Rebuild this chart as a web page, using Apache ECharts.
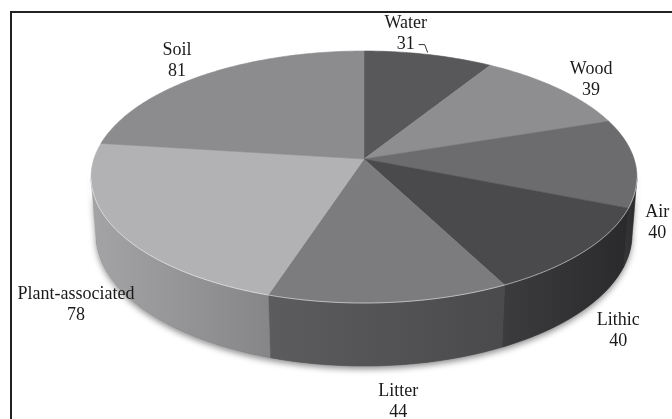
<!DOCTYPE html>
<html><head><meta charset="utf-8">
<script src="https://cdn.jsdelivr.net/npm/echarts@6/dist/echarts.min.js"></script>
<style>html,body{margin:0;padding:0;background:#fff}#c{width:672px;height:419px}</style>
</head><body><div id="c"></div>
<script>
// ---- data ----
const categories = ['Water', 'Wood', 'Air', 'Lithic', 'Litter', 'Plant-associated', 'Soil'];
const values = [31, 39, 40, 40, 44, 78, 81];

// ---- styles ----
const topColors = ['#58585a', '#8e8e90', '#6c6c6e', '#4a4a4c', '#7c7c7e', '#b2b2b4', '#8c8c8e'];
const sideColors = [['#444446', '#3a3a3c'], ['#6e6e70', '#5e5e60'], ['#38383a', '#28282a'], ['#3c3c3e', '#2a2a2c'], ['#5c5c5e', '#4a4a4c'], ['#a4a4a6', '#868688'], ['#707072', '#606062']];
const labelOffsets = [[-23, -21], [33, -9], [22, 60], [34, 79], [9, 99], [-41, 74], [-26, -14]];
const leaderLines = [true, false, false, false, false, false, false];

// ---- 3D view ----
const view = { cx: 364, cy: 159, f: 1680, D: 6.22, sin: 0.457, cos: 0.889, t: 0.24 };
const VIS0 = 99, VIS1 = 261;
function project(X, Z, Yp) {
  const yc = Yp * view.cos + Z * view.sin;
  const d = view.D + Z * view.cos - Yp * view.sin;
  return [view.cx + view.f * X / d, view.cy - view.f * yc / d];
}
function arc(th0, th1, Yp, r) {
  const pts = [];
  const n = Math.max(1, Math.ceil(Math.abs(th1 - th0)));
  for (let i = 0; i <= n; i++) {
    const th = th0 + (th1 - th0) * i / n;
    const ph = (90 - th) * Math.PI / 180;
    pts.push(project(r * Math.cos(ph), r * Math.sin(ph), Yp));
  }
  return pts;
}
const total = values.reduce((a, b) => a + b, 0);
const starts = [];
{ let acc = 0; values.forEach(v => { starts.push(acc / total * 360); acc += v; }); }

function renderItem(params, api) {
  const i = params.dataIndex;
  const v = api.value(0);
  const th0 = starts[i], th1 = th0 + v / total * 360;
  const children = [];
  if (i === 0) {
    const band = arc(VIS0 - 2, VIS1 + 2, 0, 1).concat(arc(VIS0 - 2, VIS1 + 2, -view.t, 1).reverse());
    children.push({ type: 'polygon', z2: 0, shape: { points: band },
      style: { fill: '#666', shadowBlur: 6, shadowColor: 'rgba(0,0,0,0.45)', shadowOffsetY: 3 } });
  }
  const a = Math.max(th0, VIS0), b = Math.min(th1, VIS1);
  if (b > a) {
    const pts = arc(a, b, 0, 1).concat(arc(a, b, -view.t, 1).reverse());
    const grad = new echarts.graphic.LinearGradient(0, 0, 1, 0, [
      { offset: 0, color: sideColors[i][0] }, { offset: 1, color: sideColors[i][1] }]);
    children.push({ type: 'polygon', z2: 2, shape: { points: pts }, style: { fill: grad, stroke: grad, lineWidth: 0.6 } });
    children.push({ type: 'polyline', z2: 11, shape: { points: arc(a, b, 0, 1) },
      style: { fill: null, stroke: 'rgba(255,255,255,0.5)', lineWidth: 1 } });
  }
  const top = [project(0, 0, 0)].concat(arc(th0, th1, 0, 1));
  children.push({ type: 'polygon', z2: 10, shape: { points: top }, style: { fill: topColors[i], stroke: topColors[i], lineWidth: 0.6 } });
  const mid = (th0 + th1) / 2;
  const m = arc(mid, mid, 0, 1)[0];
  const lx = m[0] + labelOffsets[i][0], ly = m[1] + labelOffsets[i][1];
  children.push({ type: 'text', z2: 20, style: {
    text: categories[i] + '\n' + v, x: lx, y: ly, align: 'center', verticalAlign: 'middle',
    fontFamily: '"Liberation Serif", "DejaVu Serif", serif', fontSize: 18, lineHeight: 21, fill: '#1a1a1a' } });
  if (leaderLines[i]) {
    children.push({ type: 'polyline', z2: 20, shape: { points: [[m[0] - 1, m[1] - 2], [m[0] - 4, m[1] - 10], [m[0] - 10, m[1] - 10]] },
      style: { fill: null, stroke: '#333', lineWidth: 1 } });
  }
  return { type: 'group', children };
}

const chart = echarts.init(document.getElementById('c'));
chart.setOption({
  animation: false,
  backgroundColor: '#fff',
  graphic: [{ type: 'rect', shape: { x: 11, y: 12, width: 720, height: 500 }, style: { fill: 'none', stroke: '#222', lineWidth: 2 }, z: 100 }],
  series: [{ type: 'custom', coordinateSystem: 'none', renderItem, data: values.map(v => [v]) }]
});
</script></body></html>
